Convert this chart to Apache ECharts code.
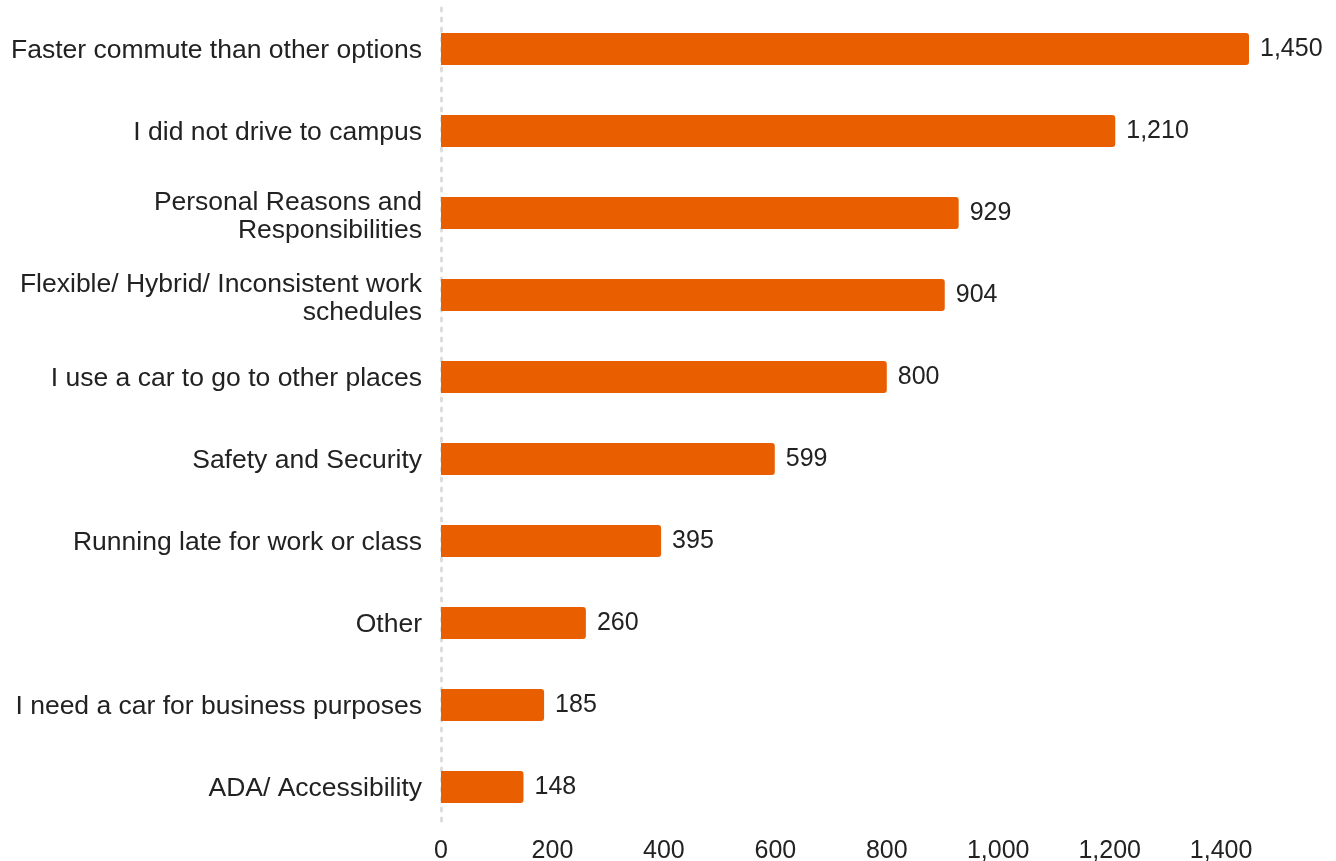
<!DOCTYPE html>
<html>
<head>
<meta charset="utf-8">
<script src="https://cdn.jsdelivr.net/npm/echarts@6/dist/echarts.min.js"></script>
<style>
html,body{margin:0;padding:0;background:#fff;}
#chart{width:1336px;height:861px;}
</style>
</head>
<body>
<div id="chart"></div>
<script>
const categories = [
  "Faster commute than other options",
  "I did not drive to campus",
  "Personal Reasons and\nResponsibilities",
  "Flexible/ Hybrid/ Inconsistent work\nschedules",
  "I use a car to go to other places",
  "Safety and Security",
  "Running late for work or class",
  "Other",
  "I need a car for business purposes",
  "ADA/ Accessibility"
];
const values = [1450, 1210, 929, 904, 800, 599, 395, 260, 185, 148];
const xTicks = [0, 200, 400, 600, 800, 1000, 1200, 1400];

const FONT = "'Liberation Sans', Arial, sans-serif";

const chart = echarts.init(document.getElementById('chart'));
chart.setOption({
  animation: false,
  textStyle: { fontFamily: FONT },
  grid: { left: 441, right: 87, top: 8, bottom: 33, containLabel: false, outerBoundsMode: 'none' },
  xAxis: {
    type: 'value',
    min: 0,
    max: 1450,
    interval: 200,
    axisLine: { show: false },
    axisTick: { show: false },
    splitLine: { show: false },
    axisLabel: {
      showMaxLabel: false,
      color: '#222',
      fontFamily: FONT,
      fontSize: 25,
      margin: 11,
      formatter: v => xTicks.includes(v) ? v.toLocaleString('en-US') : ''
    }
  },
  yAxis: {
    type: 'category',
    data: categories,
    inverse: true,
    axisTick: { show: false },
    axisLine: { show: true, lineStyle: { color: '#dddddd', width: 3, type: [3, 7] } },
    axisLabel: {
      color: '#222', fontFamily: FONT, fontSize: 26.5, margin: 19, lineHeight: 28, align: 'right',
      formatter: v => (v.includes('\n') ? '{g2| }\n' : '{g1| }\n') + v,
      rich: {
        g1: { fontSize: 4, lineHeight: 4 },
        g2: { fontSize: 8, lineHeight: 8 }
      }
    }
  },
  series: [{
    type: 'bar',
    data: values,
    barWidth: 32,
    itemStyle: { color: '#e95f00', borderRadius: [0, 3, 3, 0] },
    label: {
      show: true,
      position: 'right',
      distance: 11,
      color: '#222',
      fontFamily: FONT,
      fontSize: 25,
      formatter: p => p.value.toLocaleString('en-US')
    }
  }]
});
</script>
</body>
</html>
